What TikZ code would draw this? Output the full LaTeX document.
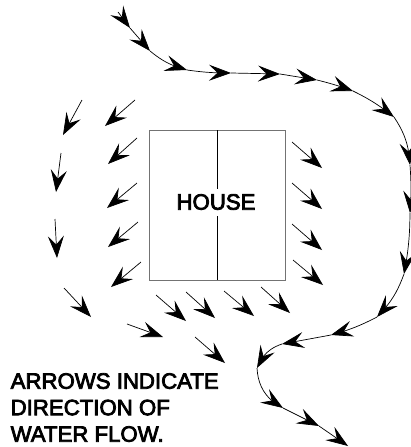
\documentclass[tikz,border=0pt]{standalone}
\usepackage{fontspec}
\setmainfont[FakeBold=3.5]{Liberation Sans}
\usetikzlibrary{arrows.meta,bending}
\tikzset{
  flow/.style={draw=black,line width=0.7pt,-{Stealth[length=22pt,width=16pt,inset=8.5pt]}},
  label/.style={font=\fontsize{22.2}{26.5}\selectfont,inner sep=0pt,align=left}
}
\begin{document}
\begin{tikzpicture}[x=1pt,y=-1pt]
\useasboundingbox (0,0) rectangle (410,447);
% house
\draw[draw=black!55,line width=1pt] (149,130) rectangle (285,280);
\draw[line width=0.8pt] (217,130) -- (217,280);
\node[label,fill=white,minimum height=27pt] (house) at (216,202) {HOUSE};
\node[label,anchor=north west] (note) at (10.5,373) {ARROWS INDICATE\\DIRECTION OF\\WATER FLOW.};
% main stream
\coordinate (p0) at (118,12);
\coordinate (p1) at (130,28);
\coordinate (p2) at (150,51);
\coordinate (p3) at (187,70);
\coordinate (p4) at (231,73);
\coordinate (p5) at (280,74);
\coordinate (p6) at (317,80);
\coordinate (p7) at (353,91);
\coordinate (p8) at (394,117);
\coordinate (p9) at (410,165);
\coordinate (p10) at (410,213);
\coordinate (p11) at (404,274);
\coordinate (p12) at (377,317);
\coordinate (p13) at (331,335);
\coordinate (p14) at (282,344);
\coordinate (p15) at (257,368);
\coordinate (p16) at (283,408);
\coordinate (p17) at (319,426);
\coordinate (p18) at (348,446);
\draw[flow] (p0) -- (p1);
\draw[flow] (p1) -- (p2);
\draw[flow] (p2) to[bend right=12] (p3);
\draw[flow] (p3) to[bend right=4] (p4);
\draw[flow] (p4) -- (p5);
\draw[flow] (p5) -- (p6);
\draw[flow] (p6) to[bend left=3] (p7);
\draw[flow] (p7) to[bend left=6] (p8);
\draw[flow] (p8) to[bend left=15] (p9);
\draw[flow] (p9) to[bend left=4] (p10);
\draw[flow] (p10) to[bend left=5] (p11);
\draw[flow] (p11) to[bend left=12] (p12);
\draw[flow] (p12) to[bend left=6] (p13);
\draw[flow] (p13) -- (p14);
\draw[flow] (p14) to[bend right=25] (p15);
\draw[flow] (p15) to[bend right=30] (p16);
\draw[flow] (p16) -- (p17);
\draw[flow] (p17) -- (p18);
% loose arrows
\draw[flow] (82,100) -- (63,135);
\draw[flow] (135,100) -- (105,126);
\draw[flow] (137,138) -- (108,164);
\draw[flow] (137,183) -- (107,208);
\draw[flow] (138,222) -- (108,247);
\draw[flow] (141,262) -- (111,287);
\draw[flow] (61,153) -- (56,192);
\draw[flow] (55,219) -- (57,258);
\draw[flow] (64,288) -- (91,317);
\draw[flow] (156,295) -- (186,321);
\draw[flow] (186,292) -- (215,318);
\draw[flow] (224,291) -- (254,316);
\draw[flow] (261,287) -- (290,313);
\draw[flow] (127,324) -- (163,337);
\draw[flow] (195,337) -- (225,363);
\draw[flow] (292,142) -- (322,168);
\draw[flow] (292,183) -- (322,209);
\draw[flow] (292,224) -- (322,250);
\draw[flow] (293,260) -- (323,285);
\end{tikzpicture}
\end{document}
